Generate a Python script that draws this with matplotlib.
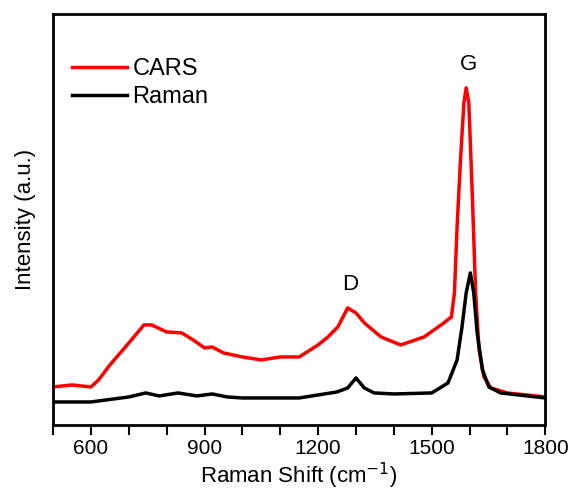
import matplotlib.pyplot as plt

plt.rcParams['font.family'] = ['Liberation Sans', 'DejaVu Sans']

# Raman shift (cm^-1) and intensities (a.u.)
cars_x = [500, 550, 600, 620, 650, 700, 740, 760, 800, 840, 870, 900, 920, 950,
          1000, 1050, 1100, 1150, 1200, 1226, 1252, 1278, 1300, 1322, 1366, 1418,
          1480, 1532, 1552, 1560, 1567, 1576, 1585, 1591, 1598, 1607, 1616, 1625,
          1638, 1656, 1700, 1800]
cars_y = [38, 40, 38, 45, 60, 82, 100, 100, 93, 92, 85, 77, 78, 72,
          68, 65, 68, 68, 80, 88, 98, 117, 112, 102, 88, 80,
          88, 102, 108, 132, 198, 265, 322, 337, 322, 232, 132, 75,
          48, 37, 32, 28]

raman_x = [500, 600, 700, 745, 780, 830, 880, 920, 960, 1000, 1150, 1200, 1250,
           1278, 1300, 1322, 1348, 1400, 1500, 1543, 1567, 1580, 1591, 1602,
           1611, 1620, 1634, 1651, 1682, 1800]
raman_y = [23, 23, 28, 32, 29, 32, 29, 31, 28, 27, 27, 30, 33,
           37, 47, 37, 32, 31, 32, 42, 65, 98, 132, 152,
           132, 92, 55, 38, 32, 27]

fig = plt.figure(figsize=(5.71, 4.93), dpi=100)
ax = fig.add_axes([0.093, 0.138, 0.862, 0.834])

ax.plot(cars_x, cars_y, color='#ff0000', lw=2.5, label='CARS')
ax.plot(raman_x, raman_y, color='black', lw=2.5, label='Raman')

ax.set_xlim(500, 1800)
ax.set_ylim(0, 411)
ax.set_xticks([600, 900, 1200, 1500, 1800])
ax.set_xticks(range(500, 1801, 100), minor=True)
ax.set_yticks([])
ax.tick_params(axis='x', which='major', direction='out', length=7, width=1.5,
               labelsize=15, pad=3)
ax.tick_params(axis='x', which='minor', direction='out', length=7, width=1.5)
for s in ax.spines.values():
    s.set_linewidth(2)

ax.set_xlabel('Raman Shift (cm$^{-1}$)', fontsize=16, labelpad=2)
ax.set_ylabel('Intensity (a.u.)', fontsize=16, labelpad=12)

ax.text(1285, 135, 'D', fontsize=16, ha='center')
ax.text(1597, 355, 'G', fontsize=16, ha='center')

ax.legend(loc='upper left', bbox_to_anchor=(0.02, 0.915), frameon=False, fontsize=17,
          handlelength=2.3, handletextpad=0.25, labelspacing=0.25, borderaxespad=0)

fig.savefig('out.png', dpi=100)
